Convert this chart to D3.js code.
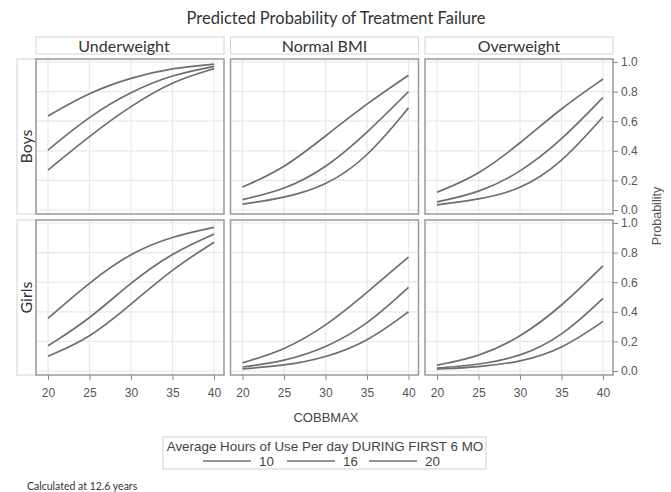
<!DOCTYPE html>
<html lang="en">
<head>
<meta charset="UTF-8">
<title>Predicted Probability of Treatment Failure</title>
<script src="https://d3js.org/d3.v7.min.js"></script>
<style>
  html, body { margin: 0; background: #fff; overflow: hidden; }
  .tick text { font-family: "Liberation Sans", Arial, sans-serif; font-size: 12px; fill: #555; }
  .tick line { stroke: #888; }
</style>
</head>
<body>
<svg id="svg" width="671" height="492"></svg>
<script>
  const cobbValues = [20, 25, 30, 35, 40];
  const bmiGroups = ['Underweight', 'Normal BMI', 'Overweight'];
  const sexGroups = ['Boys', 'Girls'];
  const hoursLevels = [10, 16, 20];
  const xTicks = [20, 25, 30, 35, 40];
  const yTicks = [0, 0.2, 0.4, 0.6, 0.8, 1.0];

  // one row per hours level (10, 16, 20)
  const boysUnderweight = [[0.635, 0.795, 0.895, 0.96, 0.985], [0.405, 0.635, 0.80, 0.915, 0.97], [0.27, 0.50, 0.705, 0.87, 0.955]];
  const boysNormal = [[0.155, 0.28, 0.50, 0.72, 0.91], [0.07, 0.135, 0.28, 0.52, 0.80], [0.04, 0.08, 0.16, 0.35, 0.69]];
  const boysOverweight = [[0.12, 0.235, 0.45, 0.69, 0.885], [0.055, 0.115, 0.25, 0.47, 0.76], [0.035, 0.07, 0.135, 0.315, 0.63]];
  const girlsUnderweight = [[0.355, 0.60, 0.80, 0.91, 0.97], [0.17, 0.35, 0.60, 0.80, 0.925], [0.10, 0.22, 0.45, 0.69, 0.87]];
  const girlsNormal = [[0.055, 0.14, 0.30, 0.53, 0.77], [0.027, 0.065, 0.155, 0.31, 0.565], [0.015, 0.035, 0.09, 0.195, 0.40]];
  const girlsOverweight = [[0.04, 0.095, 0.225, 0.435, 0.71], [0.02, 0.042, 0.095, 0.23, 0.49], [0.013, 0.027, 0.06, 0.145, 0.335]];

  const panels = [
    [boysUnderweight, boysNormal, boysOverweight],
    [girlsUnderweight, girlsNormal, girlsOverweight]
  ];

  const svg = d3.select('#svg');
  const calibri = 'Lato, "Open Sans", sans-serif';
  const arial = '"Liberation Sans", Arial, sans-serif';

  const panelW = 188, panelH = 155;
  const colX = [36, 230.5, 425];
  const rowY = [59, 220];

  const x = d3.scaleLinear().domain([20, 40]).range([12, panelW - 10]);
  const y = d3.scaleLinear().domain([0, 1]).range([panelH - 4, 3]);

  const line = d3.line()
    .x((d, i) => x(cobbValues[i]))
    .y(d => y(d))
    .curve(d3.curveBasis);

  // title
  svg.append('text')
    .attr('x', 336).attr('y', 24)
    .attr('text-anchor', 'middle')
    .attr('font-family', calibri).attr('font-size', 16.5).attr('fill', '#333')
    .text('Predicted Probability of Treatment Failure');

  // column headers
  bmiGroups.forEach((name, c) => {
    svg.append('rect')
      .attr('x', colX[c]).attr('y', 37).attr('width', panelW).attr('height', 17)
      .attr('fill', '#fff').attr('stroke', '#d4d4d4');
    svg.append('text')
      .attr('x', colX[c] + panelW / 2 - (c === 0 ? 6 : 0)).attr('y', 51.5)
      .attr('text-anchor', 'middle')
      .attr('font-family', calibri).attr('font-size', 16).attr('fill', '#333')
      .text(name);
  });

  // row headers
  sexGroups.forEach((name, r) => {
    svg.append('rect')
      .attr('x', 17).attr('y', rowY[r]).attr('width', 19).attr('height', panelH)
      .attr('fill', '#fff').attr('stroke', '#d4d4d4');
    const cy = rowY[r] + panelH / 2 + (r === 0 ? 10 : 0);
    svg.append('text')
      .attr('transform', `translate(31.5,${cy}) rotate(-90)`)
      .attr('text-anchor', 'middle')
      .attr('font-family', calibri).attr('font-size', 16).attr('fill', '#333')
      .text(name);
  });

  panels.forEach((row, r) => {
    row.forEach((series, c) => {
      const g = svg.append('g').attr('transform', `translate(${colX[c]},${rowY[r]})`);

      g.selectAll('.vgrid').data(xTicks).join('line')
        .attr('x1', d => x(d)).attr('x2', d => x(d))
        .attr('y1', 0).attr('y2', panelH)
        .attr('stroke', '#e8e8e8').attr('stroke-width', 1.2);
      g.selectAll('.hgrid').data(yTicks).join('line')
        .attr('x1', 0).attr('x2', panelW)
        .attr('y1', d => y(d)).attr('y2', d => y(d))
        .attr('stroke', '#e8e8e8').attr('stroke-width', 1.2);

      g.selectAll('.curve').data(series).join('path')
        .attr('d', line)
        .attr('fill', 'none')
        .attr('stroke', '#6e6e6e')
        .attr('stroke-width', 1.7);

      g.append('rect')
        .attr('width', panelW).attr('height', panelH)
        .attr('fill', 'none').attr('stroke', '#9a9a9a').attr('stroke-width', 1.5);

      if (r === 1) {
        const ax = g.append('g').attr('transform', `translate(0,${panelH})`)
          .call(d3.axisBottom(x).tickValues(xTicks).tickSize(5).tickPadding(8));
        ax.select('.domain').remove();
      }
      if (c === 2) {
        const ay = g.append('g').attr('transform', `translate(${panelW},0)`)
          .call(d3.axisRight(y).tickValues(yTicks).tickFormat(d3.format('.1f')).tickSize(5).tickPadding(3));
        ay.select('.domain').remove();
      }
    });
  });

  svg.append('text')
    .attr('transform', 'translate(661,216) rotate(-90)')
    .attr('text-anchor', 'middle')
    .attr('font-family', arial).attr('font-size', 12.5).attr('fill', '#555')
    .text('Probability');

  svg.append('text')
    .attr('x', 326).attr('y', 422)
    .attr('text-anchor', 'middle')
    .attr('font-family', arial).attr('font-size', 13).attr('fill', '#444')
    .text('COBBMAX');

  // legend
  const legend = svg.append('g');
  legend.append('rect')
    .attr('x', 163).attr('y', 437).attr('width', 323).attr('height', 32)
    .attr('fill', '#fff').attr('stroke', '#d0d0d0');
  legend.append('text')
    .attr('x', 325).attr('y', 451)
    .attr('text-anchor', 'middle')
    .attr('font-family', arial).attr('font-size', 13.4).attr('fill', '#444')
    .text('Average Hours of Use Per day DURING FIRST 6 MO');
  const entryX = [203, 287, 369];
  hoursLevels.forEach((h, i) => {
    legend.append('line')
      .attr('x1', entryX[i]).attr('x2', entryX[i] + 48)
      .attr('y1', 461).attr('y2', 461)
      .attr('stroke', '#707070').attr('stroke-width', 1.3);
    legend.append('text')
      .attr('x', entryX[i] + 56).attr('y', 466)
      .attr('font-family', arial).attr('font-size', 13.4).attr('fill', '#444')
      .text(h);
  });

  svg.append('text')
    .attr('x', 27).attr('y', 490)
    .attr('font-family', calibri).attr('font-size', 10.5).attr('fill', '#333')
    .text('Calculated at 12.6 years');
</script>
</body>
</html>
